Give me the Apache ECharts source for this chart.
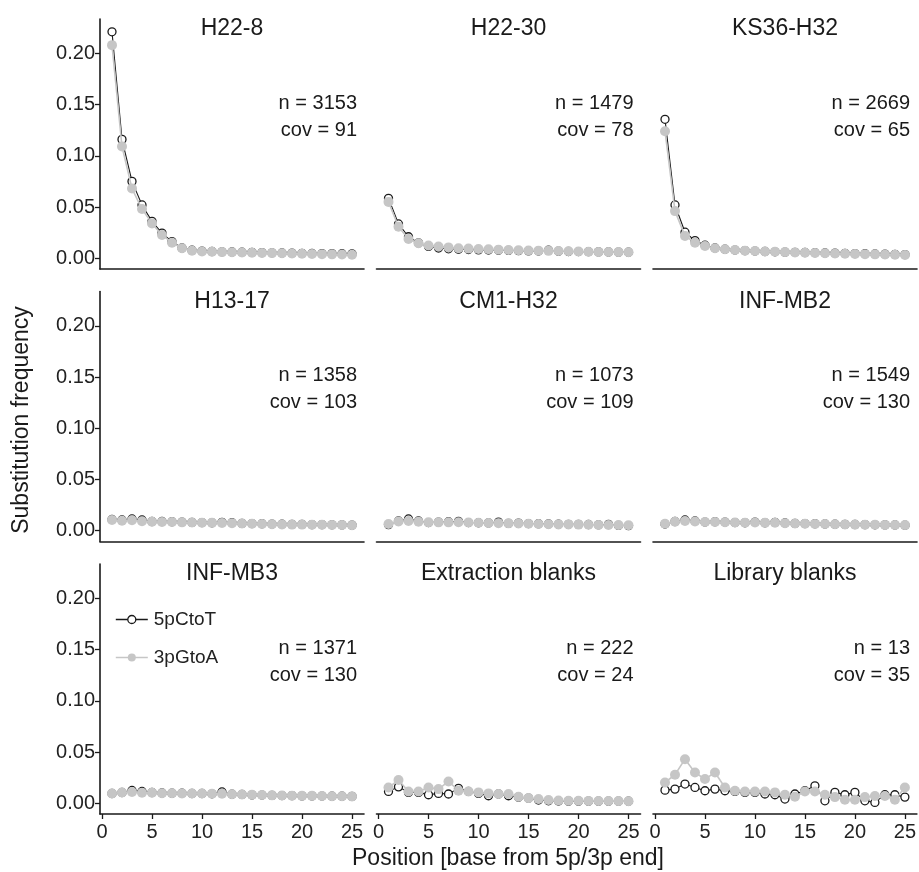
<!DOCTYPE html>
<html>
<head>
<meta charset="utf-8">
<script src="https://cdn.jsdelivr.net/npm/echarts@6/dist/echarts.min.js"></script>
<style>html,body{margin:0;padding:0;background:#fff}#c{width:919px;height:872px}</style>
</head>
<body>
<div id="c"></div>
<script>
// ---- data ----
const positions = [1,2,3,4,5,6,7,8,9,10,11,12,13,14,15,16,17,18,19,20,21,22,23,24,25];
const panelNames = ['H22-8','H22-30','KS36-H32','H13-17','CM1-H32','INF-MB2','INF-MB3','Extraction blanks','Library blanks'];
const nValues = [3153, 1479, 2669, 1358, 1073, 1549, 1371, 222, 13];
const covValues = [91, 78, 65, 103, 109, 130, 130, 24, 35];
const xTicks = [0, 5, 10, 15, 20, 25];
const yTicks = [0, 0.05, 0.10, 0.15, 0.20];
const seriesNames = ['5pCtoT', '3pGtoA'];

const H22_8_CtoT = [0.221,0.116,0.075,0.052,0.036,0.0245,0.0162,0.0100,0.0078,0.0070,0.0066,0.0063,0.0061,0.0059,0.0057,0.0055,0.0053,0.0051,0.0050,0.0048,0.0047,0.0046,0.0045,0.0044,0.0043];
const H22_8_GtoA = [0.208,0.109,0.068,0.048,0.034,0.0227,0.0152,0.0098,0.0074,0.0066,0.0063,0.0060,0.0058,0.0056,0.0054,0.0052,0.0050,0.0048,0.0046,0.0044,0.0042,0.0040,0.0038,0.0036,0.0034];
const H22_30_CtoT = [0.0585,0.0335,0.0210,0.0150,0.0115,0.0100,0.0092,0.0088,0.0085,0.0082,0.0080,0.0078,0.0076,0.0074,0.0072,0.0070,0.0078,0.0068,0.0066,0.0065,0.0064,0.0062,0.0061,0.0060,0.0059];
const H22_30_GtoA = [0.0550,0.0308,0.0188,0.0146,0.0125,0.0115,0.0106,0.0098,0.0094,0.0090,0.0087,0.0084,0.0081,0.0078,0.0076,0.0074,0.0072,0.0070,0.0068,0.0066,0.0064,0.0062,0.0061,0.0060,0.0058];
const KS36_CtoT = [0.1356,0.052,0.0254,0.0172,0.0127,0.0100,0.0088,0.0080,0.0074,0.0070,0.0066,0.0063,0.0060,0.0058,0.0056,0.0054,0.0052,0.0050,0.0048,0.0046,0.0044,0.0042,0.0040,0.0038,0.0036];
const KS36_GtoA = [0.124,0.046,0.0218,0.0152,0.0120,0.0098,0.0088,0.0080,0.0074,0.0070,0.0066,0.0063,0.0060,0.0057,0.0054,0.0051,0.0048,0.0046,0.0044,0.0042,0.0040,0.0038,0.0036,0.0034,0.0032];
const H13_17_CtoT = [0.011,0.0105,0.0115,0.0105,0.009,0.009,0.0088,0.0085,0.0082,0.008,0.0078,0.0082,0.0078,0.0072,0.007,0.0068,0.0065,0.0064,0.0062,0.0062,0.006,0.006,0.0058,0.0057,0.0055];
const H13_17_GtoA = [0.0105,0.0098,0.0102,0.0092,0.0088,0.0086,0.0085,0.0082,0.008,0.0078,0.0077,0.0076,0.0074,0.007,0.0068,0.0066,0.0064,0.0062,0.006,0.006,0.0059,0.0058,0.0057,0.0056,0.0054];
const CM1_CtoT = [0.006,0.0095,0.0115,0.0095,0.008,0.0085,0.0088,0.0092,0.008,0.0078,0.0077,0.0085,0.0072,0.0074,0.007,0.0068,0.0066,0.0064,0.0063,0.0062,0.0061,0.0058,0.0062,0.0052,0.005];
const CM1_GtoA = [0.0065,0.009,0.0095,0.0088,0.0082,0.0082,0.0082,0.0083,0.008,0.0078,0.0076,0.0074,0.0072,0.007,0.0068,0.0066,0.0064,0.0062,0.0062,0.006,0.0059,0.0057,0.0056,0.0055,0.0053];
const MB2_CtoT = [0.0065,0.009,0.0105,0.0095,0.0085,0.0088,0.0085,0.008,0.0078,0.0085,0.0078,0.0082,0.0076,0.0072,0.007,0.0068,0.0066,0.0064,0.0062,0.0061,0.006,0.0058,0.0057,0.0056,0.0054];
const MB2_GtoA = [0.0068,0.0088,0.0095,0.009,0.0085,0.0085,0.0083,0.008,0.0078,0.008,0.0077,0.0078,0.0074,0.0071,0.0069,0.0067,0.0065,0.0063,0.0062,0.006,0.0059,0.0058,0.0057,0.0056,0.0055];
const MB3_CtoT = [0.0095,0.0105,0.0125,0.0115,0.0105,0.01,0.0098,0.0098,0.0095,0.0095,0.0092,0.011,0.0088,0.0086,0.0082,0.008,0.0077,0.0075,0.0074,0.0072,0.0072,0.007,0.0069,0.0068,0.0067];
const MB3_GtoA = [0.0095,0.0105,0.011,0.0102,0.0102,0.0098,0.0098,0.0096,0.0095,0.0095,0.0093,0.0093,0.0088,0.0086,0.0083,0.008,0.0077,0.0075,0.0074,0.0072,0.0072,0.007,0.0069,0.0068,0.0067];
const EXT_CtoT = [0.0115,0.016,0.0106,0.0106,0.0083,0.0096,0.009,0.0145,0.0115,0.0096,0.0073,0.009,0.0073,0.006,0.005,0.0031,0.0024,0.0022,0.0021,0.0021,0.002,0.002,0.002,0.002,0.002];
const EXT_GtoA = [0.0154,0.0226,0.0115,0.0115,0.0154,0.0138,0.0213,0.0122,0.0115,0.0106,0.0096,0.009,0.009,0.0063,0.005,0.0041,0.0031,0.0026,0.0024,0.0024,0.0023,0.0022,0.0022,0.0021,0.002];
const LIB_CtoT = [0.0128,0.0138,0.0187,0.0154,0.0122,0.0138,0.0122,0.0115,0.0106,0.0106,0.009,0.0083,0.0041,0.009,0.0122,0.017,0.0024,0.0106,0.0083,0.0106,0.0024,0.0008,0.0083,0.0083,0.006];
const LIB_GtoA = [0.0203,0.0278,0.043,0.030,0.0236,0.030,0.0154,0.0122,0.0115,0.0115,0.0115,0.0106,0.0083,0.0063,0.0115,0.0115,0.0083,0.006,0.0034,0.0034,0.006,0.007,0.007,0.0034,0.0154];

const panelCtoT = [H22_8_CtoT, H22_30_CtoT, KS36_CtoT, H13_17_CtoT, CM1_CtoT, MB2_CtoT, MB3_CtoT, EXT_CtoT, LIB_CtoT];
const panelGtoA = [H22_8_GtoA, H22_30_GtoA, KS36_GtoA, H13_17_GtoA, CM1_GtoA, MB2_GtoA, MB3_GtoA, EXT_GtoA, LIB_GtoA];

// ---- layout ----
const COL_LEFT = [100, 376.5, 653];
const ROW_TOP = [19, 291.5, 564];
const PW = 264, PH = 250;
const XMIN = -0.2, XMAX = 26.2, YMIN = -0.0105, YMAX = 0.2335;
const FONT = '"Liberation Sans", Arial, Helvetica, sans-serif';
const BLACK = '#1a1a1a', GREY = '#c6c6c6';

const grids = [], xAxes = [], yAxes = [], series = [];
for (let i = 0; i < 9; i++) {
  const r = Math.floor(i / 3), c = i % 3;
  grids.push({left: COL_LEFT[c], top: ROW_TOP[r], width: PW, height: PH, containLabel: false});
  xAxes.push({
    type: 'value', gridIndex: i, min: XMIN, max: XMAX,
    axisLine: {show: true, onZero: false, lineStyle: {color: BLACK, width: 1.6}},
    axisTick: {show: r === 2, customValues: xTicks, length: 5, lineStyle: {color: BLACK, width: 1.3}},
    axisLabel: {show: r === 2, customValues: xTicks, margin: 8, color: '#222', fontSize: 20, fontFamily: FONT},
    splitLine: {show: false}
  });
  yAxes.push({
    type: 'value', gridIndex: i, min: YMIN, max: YMAX,
    axisLine: {show: c === 0, onZero: false, lineStyle: {color: BLACK, width: 1.6}},
    axisTick: {show: c === 0, customValues: yTicks, length: 5, lineStyle: {color: BLACK, width: 1.3}},
    axisLabel: {show: c === 0, customValues: yTicks, margin: 5, color: '#222', fontSize: 20, fontFamily: FONT,
      formatter: v => v.toFixed(2)},
    splitLine: {show: false}
  });
  series.push({
    name: seriesNames[0], type: 'line', xAxisIndex: i, yAxisIndex: i,
    data: positions.map((p, k) => [p, panelCtoT[i][k]]),
    symbol: 'circle', symbolSize: 8, showAllSymbol: true,
    lineStyle: {color: BLACK, width: 1.1},
    itemStyle: {color: '#ffffff', borderColor: BLACK, borderWidth: 1.3},
    emphasis: {disabled: true}, animation: false, z: 2
  });
  series.push({
    name: seriesNames[1], type: 'line', xAxisIndex: i, yAxisIndex: i,
    data: positions.map((p, k) => [p, panelGtoA[i][k]]),
    symbol: 'circle', symbolSize: 10, showAllSymbol: true,
    lineStyle: {color: GREY, width: 1.6},
    itemStyle: {color: GREY, borderWidth: 0},
    emphasis: {disabled: true}, animation: false, z: 3
  });
}

const chart = echarts.init(document.getElementById('c'), null, {renderer: 'canvas'});
chart.setOption({
  backgroundColor: '#ffffff',
  animation: false,
  grid: grids, xAxis: xAxes, yAxis: yAxes, series: series,
  legend: {
    data: [
      {name: seriesNames[0], itemStyle: {color: '#ffffff', borderColor: BLACK, borderWidth: 1.3}, lineStyle: {color: BLACK, width: 1.3}},
      {name: seriesNames[1], itemStyle: {color: GREY}, lineStyle: {color: GREY, width: 1.6}}
    ],
    orient: 'vertical', left: 110, top: 605, itemWidth: 32, itemHeight: 10, itemGap: 19,
    selectedMode: false,
    textStyle: {fontSize: 19, color: '#222', fontFamily: FONT, padding: [0, 0, 0, 1]}
  }
});

// text annotations: facet titles, n / cov labels, axis titles
const graphics = [];
for (let i = 0; i < 9; i++) {
  const r = Math.floor(i / 3), c = i % 3;
  graphics.push({type: 'text', x: COL_LEFT[c] + PW / 2, y: ROW_TOP[r] + 10, silent: true,
    style: {text: panelNames[i], textAlign: 'center', textVerticalAlign: 'middle', fill: '#1a1a1a', font: '23px ' + FONT}});
  graphics.push({type: 'text', x: COL_LEFT[c] + 257, y: ROW_TOP[r] + 84, silent: true,
    style: {text: 'n = ' + nValues[i], textAlign: 'right', textVerticalAlign: 'middle', fill: '#1a1a1a', font: '20px ' + FONT}});
  graphics.push({type: 'text', x: COL_LEFT[c] + 257, y: ROW_TOP[r] + 111, silent: true,
    style: {text: 'cov = ' + covValues[i], textAlign: 'right', textVerticalAlign: 'middle', fill: '#1a1a1a', font: '20px ' + FONT}});
}
graphics.push({type: 'text', x: 22, y: 420, rotation: Math.PI / 2, silent: true,
  style: {text: 'Substitution frequency', textAlign: 'center', textVerticalAlign: 'middle', fill: '#1a1a1a', font: '23px ' + FONT}});
graphics.push({type: 'text', x: 508, y: 859, silent: true,
  style: {text: 'Position [base from 5p/3p end]', textAlign: 'center', textVerticalAlign: 'middle', fill: '#1a1a1a', font: '23px ' + FONT}});
chart.setOption({graphic: graphics});
</script>
</body>
</html>
